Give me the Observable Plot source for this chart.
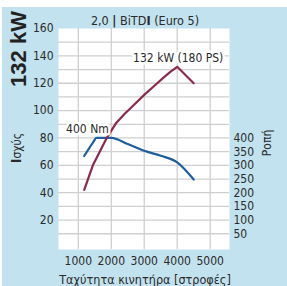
<!DOCTYPE html>
<html>
<head>
<meta charset="utf-8">
<script src="https://cdn.jsdelivr.net/npm/d3@7"></script>
<script src="https://cdn.jsdelivr.net/npm/@observablehq/plot@0.6"></script>
<style>
  body { margin: 0; background: #ffffff; }
  #wrap { position: relative; width: 287px; height: 286px; overflow: hidden;
          font-family: "Liberation Sans Narrow", "DejaVu Sans Condensed", "Liberation Sans", sans-serif; color: #2a2a2a; }
  #bg { position: absolute; left: 2px; top: 7px; right: 0; bottom: 0; background: #c2e2ef; }
  #chart { position: absolute; left: 0; top: 0; }
  .lab { position: absolute; white-space: nowrap; transform-origin: center center; }
</style>
</head>
<body>
<div id="wrap">
  <div id="bg"></div>
  <div id="chart"></div>
  <div class="lab" id="title" style="left:145px; top:20px; transform:translate(-50%,-50%); font-size:12.5px;">2,0 <b>|</b> BiTD<b>I</b> (Euro 5)</div>
  <div class="lab" id="big" style="left:19px; top:49px; transform:translate(-50%,-50%) rotate(-90deg); font-size:22px; font-weight:bold; font-family:'Liberation Sans', Arial, sans-serif; color:#222;">132 kW</div>
  <div class="lab" id="ylab" style="left:16px; top:148px; transform:translate(-50%,-50%) rotate(-90deg); font-size:12px;"><b style="font-size:14px">Ι</b>σχύς</div>
  <div class="lab" id="y2lab" style="left:267px; top:143px; transform:translate(-50%,-50%) rotate(-90deg); font-size:12px;">Ροπή</div>
  <div class="lab" id="xlab" style="left:145px; top:279px; transform:translate(-50%,-50%); font-size:12.5px;">Ταχύτητα κινητήρα [στροφές]</div>
</div>
<script>
// Power curve (kW)
const powerRpm = [1180, 1450, 1850, 2150, 2400, 2700, 3000, 3300, 3600, 3800, 4000, 4500];
const powerKW  = [42, 60.5, 79.5, 91, 97.5, 104.5, 111.5, 118, 124.5, 128.5, 132, 120];
// Torque curve (Nm)
const torqueRpm = [1180, 1450, 1550, 2000, 2500, 3000, 3500, 4000, 4500];
const torqueNm  = [334, 384, 400, 400, 378, 353, 335, 311, 248];
// Tick values
const xTicks = [1000, 2000, 3000, 4000, 5000];
const yTicksLeft = [20, 40, 60, 80, 100, 120, 140, 160];
const yTicksRight = [50, 100, 150, 200, 250, 300, 350, 400];
const yGrid = [10, 20, 30, 40, 50, 60, 70, 80, 90, 100, 110, 120, 130, 140, 150];
// Annotations
const powerLabel = "132 kW (180 PS)";
const torqueLabel = "400 Nm";

const power = powerRpm.map((r, i) => ({rpm: r, kw: powerKW[i]}));
const torque = torqueRpm.map((r, i) => ({rpm: r, nm: torqueNm[i]}));
const NM_PER_UNIT = 5; // 400 Nm aligns with 80 kW on the left scale

const peak = power[powerKW.indexOf(Math.max(...powerKW))];
const tMax = torque[torqueNm.indexOf(Math.max(...torqueNm))];

const font = '"Liberation Sans Narrow", "DejaVu Sans Condensed", "Liberation Sans", sans-serif';

const chart = Plot.plot({
  width: 287,
  height: 286,
  marginLeft: 58,
  marginRight: 58,
  marginTop: 28,
  marginBottom: 37,
  x: {domain: [400, 5585]},
  y: {domain: [-1.5, 160]},
  style: {background: "transparent", fontFamily: font, fontSize: "12px", color: "#2a2a2a"},
  marks: [
    Plot.frame({fill: "white", stroke: null}),
    Plot.gridY(yGrid, {stroke: "#cfcfcf", strokeOpacity: 1, strokeWidth: 1.3}),
    Plot.gridX(xTicks, {stroke: "#cfcfcf", strokeOpacity: 1, strokeWidth: 1.3}),
    Plot.axisY(yTicksLeft, {anchor: "left", tickSize: 0, tickPadding: 5, label: null, fill: "#2a2a2a"}),
    Plot.axisY(yTicksRight.map(v => v / NM_PER_UNIT), {anchor: "right", tickSize: 0, tickPadding: 4, label: null,
      tickFormat: d => String(d * NM_PER_UNIT), fill: "#2a2a2a"}),
    Plot.axisX(xTicks, {anchor: "bottom", tickSize: 0, tickPadding: 7, label: null, tickFormat: d => String(d), fill: "#2a2a2a"}),
    Plot.line(torque, {x: "rpm", y: d => d.nm / NM_PER_UNIT, stroke: "#1f5e9c", strokeWidth: 2.2, curve: "monotone-x"}),
    Plot.line(power, {x: "rpm", y: "kw", stroke: "#8a2a4e", strokeWidth: 2.2, curve: "linear"}),
    Plot.text([tMax], {x: "rpm", y: d => d.nm / NM_PER_UNIT, text: () => torqueLabel, dx: -9, dy: -9,
      fill: "#2a2a2a", stroke: "white", strokeWidth: 5, fontSize: 12}),
    Plot.text([peak], {x: "rpm", y: "kw", text: () => powerLabel, dx: 1, dy: -9,
      fill: "#2a2a2a", stroke: "white", strokeWidth: 5, fontSize: 12})
  ]
});
document.getElementById("chart").appendChild(chart);
</script>
</body>
</html>
